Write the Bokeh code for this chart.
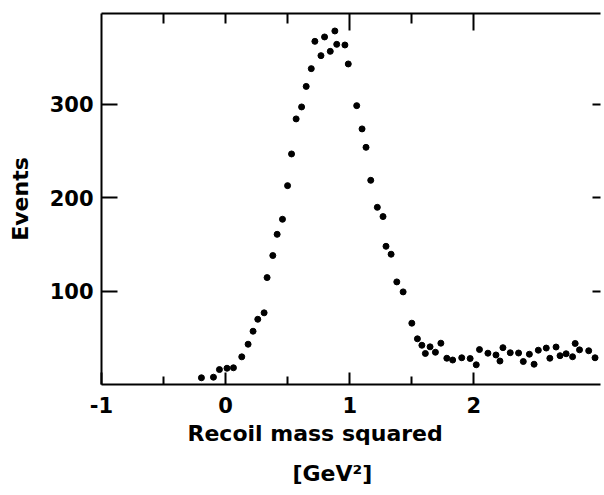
from bokeh.plotting import figure
from bokeh.models import LinearAxis, FixedTicker, Range1d, Title
from bokeh.embed import file_html
from bokeh.resources import INLINE

# Recoil mass squared (GeV^2) and event counts per bin
mass_sq = [
    -0.195, -0.098, -0.050, 0.011, 0.063, 0.130, 0.181, 0.221, 0.259, 0.310,
    0.334, 0.380, 0.415, 0.458, 0.499, 0.531, 0.568, 0.612, 0.649, 0.690,
    0.719, 0.768, 0.797, 0.843, 0.880, 0.895, 0.961, 0.988, 1.056, 1.099,
    1.131, 1.169, 1.222, 1.268, 1.292, 1.333, 1.379, 1.430, 1.500, 1.545,
    1.581, 1.609, 1.647, 1.690, 1.734, 1.782, 1.829, 1.902, 1.970, 2.019,
    2.045, 2.113, 2.178, 2.210, 2.234, 2.293, 2.360, 2.398, 2.447, 2.485,
    2.519, 2.583, 2.612, 2.662, 2.694, 2.743, 2.795, 2.816, 2.851, 2.925,
    2.976,
]
events = [
    7.2, 7.8, 16.0, 17.4, 17.9, 29.6, 43.1, 57.0, 69.8, 76.7,
    114.4, 138.0, 160.7, 176.8, 212.8, 246.7, 284.2, 297.0, 319.0, 338.0,
    367.2, 351.9, 371.9, 356.5, 378.3, 364.0, 363.3, 343.0, 298.4, 273.5,
    253.8, 218.5, 189.6, 179.7, 147.9, 139.4, 109.8, 99.1, 65.6, 48.9,
    42.0, 33.2, 40.3, 34.5, 44.2, 28.1, 26.2, 28.6, 27.8, 21.1,
    37.4, 33.5, 31.6, 25.1, 39.4, 34.0, 33.7, 24.6, 32.4, 21.7,
    36.7, 39.0, 28.1, 40.1, 30.8, 32.9, 29.7, 43.9, 37.1, 36.1,
    28.6,
]

x_ticks = [-1, 0, 1, 2]
x_tick_labels = ["-1", "0", "1", "2"]
x_minor = [-0.5, 0.5, 1.5]
top_major = [1, 2]
top_minor = [-0.5, 0, 0.5, 1.5]
y_ticks = [100, 200, 300]

FONT = "DejaVu Sans"
INK = "#000000"

p = figure(
    width=604, height=495,
    x_range=Range1d(-1, 3.02), y_range=Range1d(0, 397),
    x_axis_location=None, y_axis_location=None,
    output_backend="svg", toolbar_location=None,
    min_border_left=101, min_border_right=4,
    min_border_top=13, min_border_bottom=111,
)
p.outline_line_color = None
p.background_fill_color = "white"
p.border_fill_color = "white"
for g in p.grid:
    g.visible = False


def style_axis(ax, width=2):
    ax.axis_line_color = INK
    ax.axis_line_width = width
    ax.major_tick_line_color = INK
    ax.major_tick_line_width = width
    ax.minor_tick_line_color = INK
    ax.minor_tick_line_width = width
    ax.major_tick_out = 0
    ax.minor_tick_out = 0
    ax.major_label_text_font = FONT
    ax.major_label_text_font_style = "bold"
    ax.major_label_text_font_size = "21px"
    ax.major_label_text_color = INK
    ax.axis_label_text_font = FONT
    ax.axis_label_text_font_style = "bold"
    ax.axis_label_text_font_size = "22px"
    ax.axis_label_text_color = INK


def ticks_only(ax):
    # tick marks without any tick labels
    ax.major_label_text_color = None
    ax.major_label_text_font_size = "1px"
    ax.major_label_standoff = 0


# bottom axis with labels
xb = LinearAxis(ticker=FixedTicker(ticks=x_ticks, minor_ticks=x_minor))
style_axis(xb)
xb.major_tick_in = 12
xb.minor_tick_in = 8
xb.major_label_standoff = 12
xb.major_label_overrides = {t: s for t, s in zip(x_ticks, x_tick_labels)}
p.add_layout(xb, "below")

# axis title and units stacked under the x axis
p.add_layout(Title(text="Recoil mass squared", align="left", offset=86,
                   standoff=6, text_font=FONT, text_font_style="bold",
                   text_font_size="22px", text_color=INK), "below")
p.add_layout(Title(text="[GeV²]", align="left", offset=191,
                   standoff=20, text_font=FONT, text_font_style="bold",
                   text_font_size="22px", text_color=INK), "below")

# top border with inward ticks
xt = LinearAxis(ticker=FixedTicker(ticks=top_major, minor_ticks=top_minor))
style_axis(xt)
xt.major_tick_in = 17
xt.minor_tick_in = 10
ticks_only(xt)
p.add_layout(xt, "above")

# left axis
yl = LinearAxis(ticker=FixedTicker(ticks=y_ticks))
style_axis(yl)
yl.major_tick_in = 16
yl.major_label_standoff = 8
yl.axis_label = "Events"
yl.axis_label_standoff = 14
p.add_layout(yl, "left")

# right side: ticks only, no spine
yr = LinearAxis(ticker=FixedTicker(ticks=y_ticks))
style_axis(yr)
yr.axis_line_color = None
yr.major_tick_in = 8
ticks_only(yr)
p.add_layout(yr, "right")

p.scatter(mass_sq, events, size=6, color=INK, line_color=INK)

open("out.html", "w").write(file_html(p, INLINE))
